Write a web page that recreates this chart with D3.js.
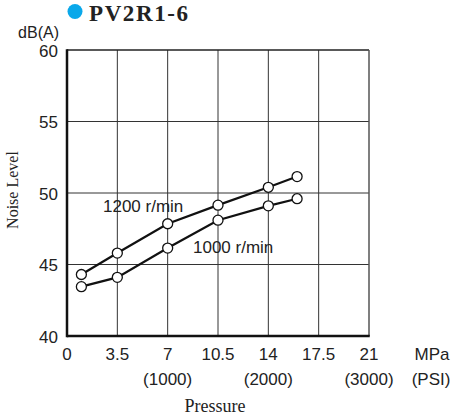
<!DOCTYPE html>
<html><head><meta charset="utf-8">
<script src="https://cdn.jsdelivr.net/npm/d3@7"></script>
<style>body{margin:0;background:#fff}svg{display:block}</style>
</head><body>
<script>
const title = "PV2R1-6";
const pressure = [1, 3.5, 7, 10.5, 14, 16];
const noise1200 = [44.3, 45.8, 47.85, 49.15, 50.4, 51.15];
const noise1000 = [43.45, 44.1, 46.15, 48.1, 49.1, 49.6];
const seriesLabels = ["1200 r/min", "1000 r/min"];
const xTicks = [0, 3.5, 7, 10.5, 14, 17.5, 21];
const psiTicks = [{mpa: 7, label: "(1000)"}, {mpa: 14, label: "(2000)"}, {mpa: 21, label: "(3000)"}];
const yTicks = [40, 45, 50, 55, 60];

const W = 455, H = 418;
const m = {left: 67, right: 369, top: 50, bottom: 336};
const svg = d3.select("body").append("svg").attr("width", W).attr("height", H);
const x = d3.scaleLinear().domain([0, 21]).range([m.left, m.right]);
const y = d3.scaleLinear().domain([40, 60]).range([m.bottom, m.top]);
const sans = "'Liberation Sans', Arial, sans-serif";
const serif = "'Liberation Serif', 'Times New Roman', serif";

// grid
const g = svg.append("g");
g.selectAll("line.vx").data(xTicks.slice(1, -1)).join("line")
  .attr("x1", d => x(d)).attr("x2", d => x(d)).attr("y1", m.top).attr("y2", m.bottom)
  .attr("stroke", "#333").attr("stroke-width", 1);
g.selectAll("line.hy").data(yTicks.slice(1, -1)).join("line")
  .attr("x1", m.left).attr("x2", m.right).attr("y1", d => y(d)).attr("y2", d => y(d))
  .attr("stroke", "#333").attr("stroke-width", 1);
// frame
g.append("line").attr("x1", m.left).attr("x2", m.right).attr("y1", m.top).attr("y2", m.top).attr("stroke", "#222").attr("stroke-width", 1.5);
g.append("line").attr("x1", m.right).attr("x2", m.right).attr("y1", m.top).attr("y2", m.bottom).attr("stroke", "#555").attr("stroke-width", 1.5);
g.append("line").attr("x1", m.left).attr("x2", m.right + 0.75).attr("y1", m.bottom).attr("y2", m.bottom).attr("stroke", "#111").attr("stroke-width", 2.5);
g.append("line").attr("x1", m.left).attr("x2", m.left).attr("y1", m.top - 0.75).attr("y2", m.bottom + 1.25).attr("stroke", "#111").attr("stroke-width", 2.5);

// y tick labels
svg.selectAll("text.yt").data(yTicks).join("text")
  .attr("x", 58).attr("y", d => y(d) + 6.5).attr("text-anchor", "end")
  .attr("font-family", sans).attr("font-size", 17).attr("fill", "#222").text(d => d);
// x tick labels
svg.selectAll("text.xt").data(xTicks).join("text")
  .attr("x", d => x(d)).attr("y", 360).attr("text-anchor", "middle")
  .attr("font-family", sans).attr("font-size", 17).attr("fill", "#222").text(d => d);
svg.selectAll("text.pt").data(psiTicks).join("text")
  .attr("x", d => x(d.mpa)).attr("y", 385).attr("text-anchor", "middle")
  .attr("font-family", sans).attr("font-size", 17).attr("fill", "#222").text(d => d.label);
svg.append("text").attr("x", 432).attr("y", 360).attr("text-anchor", "middle")
  .attr("font-family", sans).attr("font-size", 17).attr("fill", "#222").text("MPa");
svg.append("text").attr("x", 431).attr("y", 385).attr("text-anchor", "middle")
  .attr("font-family", sans).attr("font-size", 17).attr("fill", "#222").text("(PSI)");
svg.append("text").attr("x", 59).attr("y", 38).attr("text-anchor", "end")
  .attr("font-family", sans).attr("font-size", 16).attr("fill", "#222").text("dB(A)");

// axis titles
svg.append("text").attr("transform", "translate(18,190) rotate(-90)").attr("text-anchor", "middle")
  .attr("font-family", serif).attr("font-size", 16).attr("fill", "#222").text("Noise Level");
svg.append("text").attr("x", 215).attr("y", 412).attr("text-anchor", "middle")
  .attr("font-family", serif).attr("font-size", 18).attr("fill", "#222").text("Pressure");

// title
svg.append("circle").attr("cx", 75).attr("cy", 11.5).attr("r", 7.5).attr("fill", "#0aa8ea");
svg.append("text").attr("x", 89).attr("y", 21).attr("font-family", serif).attr("font-weight", "bold")
  .attr("font-size", 23).attr("letter-spacing", 1.6).attr("fill", "#222").text(title);

// series
const line = d3.line().x(d => x(d[0])).y(d => y(d[1]));
[noise1200, noise1000].forEach(vals => {
  const pts = pressure.map((p, i) => [p, vals[i]]);
  svg.append("path").datum(pts).attr("d", line).attr("fill", "none")
    .attr("stroke", "#111").attr("stroke-width", 2.2);
  svg.selectAll(null).data(pts).join("circle")
    .attr("cx", d => x(d[0])).attr("cy", d => y(d[1])).attr("r", 5)
    .attr("fill", "#fff").attr("stroke", "#111").attr("stroke-width", 1.3);
});

// series labels
svg.append("text").attr("x", 103).attr("y", 212).attr("font-family", sans).attr("font-size", 17)
  .attr("fill", "#222").text(seriesLabels[0]);
svg.append("text").attr("x", 193).attr("y", 253).attr("font-family", sans).attr("font-size", 17)
  .attr("fill", "#222").text(seriesLabels[1]);
</script>
</body></html>
